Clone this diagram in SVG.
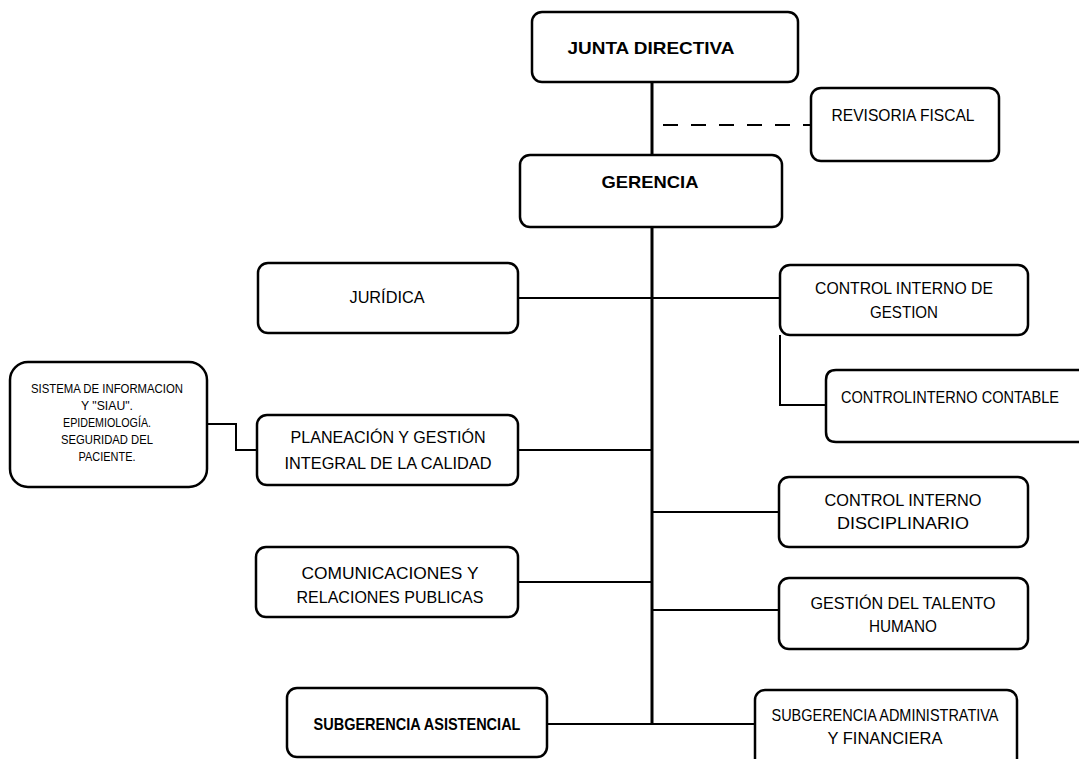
<svg xmlns="http://www.w3.org/2000/svg" width="1079" height="759" viewBox="0 0 1079 759">
<style>
.box{fill:#fff;stroke:#000;stroke-width:2.5}
.t{font-family:"Liberation Sans",Arial,sans-serif;font-size:17px;fill:#000;text-anchor:middle}
.b{font-weight:bold}
.s{font-size:12px}
.ln{stroke:#000;stroke-width:2;fill:none}
.main{stroke:#000;stroke-width:3;fill:none}
</style>
<rect width="1079" height="759" fill="#fff"/>
<g id="connectors">
<line class="main" x1="652" y1="82" x2="652" y2="155"/>
<line class="ln" x1="663" y1="125" x2="811" y2="125" stroke-dasharray="15 13"/>
<line class="main" x1="652" y1="227" x2="652" y2="725"/>
<line class="ln" x1="518" y1="298" x2="780" y2="298"/>
<polyline class="ln" points="780,335 780,405 826,405"/>
<polyline class="ln" points="207,424 236,424 236,450 257,450"/>
<line class="ln" x1="518" y1="450" x2="652" y2="450"/>
<line class="ln" x1="518" y1="582" x2="652" y2="582"/>
<line class="ln" x1="652" y1="512" x2="779" y2="512"/>
<line class="ln" x1="652" y1="610" x2="779" y2="610"/>
<line class="ln" x1="547" y1="724" x2="755" y2="724"/>
</g>
<g id="junta">
<rect class="box" x="532" y="12" width="266" height="70" rx="10"/>
<text class="t b" x="651" y="54" font-size="18" textLength="167" lengthAdjust="spacingAndGlyphs">JUNTA DIRECTIVA</text>
</g>
<g id="revisoria">
<rect class="box" x="811" y="88" width="188" height="73" rx="10"/>
<text class="t" x="903" y="121" textLength="143" lengthAdjust="spacingAndGlyphs">REVISORIA FISCAL</text>
</g>
<g id="gerencia">
<rect class="box" x="520" y="155" width="262" height="72" rx="10"/>
<text class="t b" x="650" y="188" font-size="18" textLength="97" lengthAdjust="spacingAndGlyphs">GERENCIA</text>
</g>
<g id="juridica">
<rect class="box" x="258" y="263" width="260" height="70" rx="10"/>
<text class="t" x="387" y="303" textLength="75" lengthAdjust="spacingAndGlyphs">JURÍDICA</text>
</g>
<g id="control-gestion">
<rect class="box" x="780" y="265" width="248" height="70" rx="10"/>
<text class="t" x="904" y="294" textLength="178" lengthAdjust="spacingAndGlyphs">CONTROL INTERNO DE</text>
<text class="t" x="904" y="318" textLength="68" lengthAdjust="spacingAndGlyphs">GESTION</text>
</g>
<g id="control-contable">
<path class="box" d="M1079,370 H836 Q826,370 826,380 V432 Q826,442 836,442 H1079"/>
<text class="t" x="950" y="403" textLength="218" lengthAdjust="spacingAndGlyphs">CONTROLINTERNO CONTABLE</text>
</g>
<g id="sistema">
<rect class="box" x="10" y="362" width="197" height="125" rx="18"/>
<text class="t s" x="107" y="393" textLength="152" lengthAdjust="spacingAndGlyphs">SISTEMA DE INFORMACION</text>
<text class="t s" x="107" y="410" textLength="52" lengthAdjust="spacingAndGlyphs">Y "SIAU".</text>
<text class="t s" x="107" y="427" textLength="88" lengthAdjust="spacingAndGlyphs">EPIDEMIOLOGÍA.</text>
<text class="t s" x="107" y="444" textLength="92" lengthAdjust="spacingAndGlyphs">SEGURIDAD DEL</text>
<text class="t s" x="107" y="461" textLength="57" lengthAdjust="spacingAndGlyphs">PACIENTE.</text>
</g>
<g id="planeacion">
<rect class="box" x="257" y="415" width="261" height="70" rx="10"/>
<text class="t" x="388" y="443" textLength="195" lengthAdjust="spacingAndGlyphs">PLANEACIÓN Y GESTIÓN</text>
<text class="t" x="388" y="469" textLength="207" lengthAdjust="spacingAndGlyphs">INTEGRAL DE LA CALIDAD</text>
</g>
<g id="control-disciplinario">
<rect class="box" x="779" y="477" width="249" height="70" rx="10"/>
<text class="t" x="903" y="506" textLength="157" lengthAdjust="spacingAndGlyphs">CONTROL INTERNO</text>
<text class="t" x="903" y="529" textLength="132" lengthAdjust="spacingAndGlyphs">DISCIPLINARIO</text>
</g>
<g id="comunicaciones">
<rect class="box" x="256" y="547" width="262" height="70" rx="10"/>
<text class="t" x="390" y="579" textLength="177" lengthAdjust="spacingAndGlyphs">COMUNICACIONES  Y</text>
<text class="t" x="390" y="603" textLength="187" lengthAdjust="spacingAndGlyphs">RELACIONES PUBLICAS</text>
</g>
<g id="talento">
<rect class="box" x="779" y="578" width="249" height="71" rx="10"/>
<text class="t" x="903" y="609" textLength="185" lengthAdjust="spacingAndGlyphs">GESTIÓN DEL TALENTO</text>
<text class="t" x="903" y="632" textLength="68" lengthAdjust="spacingAndGlyphs">HUMANO</text>
</g>
<g id="subgerencia-asistencial">
<rect class="box" x="287" y="688" width="260" height="69" rx="10"/>
<text class="t b" x="417" y="730" font-size="15" textLength="207" lengthAdjust="spacingAndGlyphs">SUBGERENCIA ASISTENCIAL</text>
</g>
<g id="subgerencia-administrativa">
<rect class="box" x="755" y="690" width="262" height="80" rx="10"/>
<text class="t" x="885" y="721" font-size="15" textLength="227" lengthAdjust="spacingAndGlyphs">SUBGERENCIA ADMINISTRATIVA</text>
<text class="t" x="885" y="744" font-size="15" textLength="115" lengthAdjust="spacingAndGlyphs">Y FINANCIERA</text>
</g>
</svg>
